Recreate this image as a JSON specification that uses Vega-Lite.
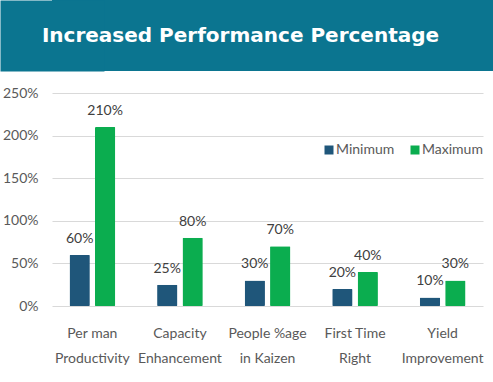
{
  "$schema": "https://vega.github.io/schema/vega-lite/v6.json",
  "padding": 0,
  "background": "white",
  "spacing": 15,
  "resolve": {"legend": {"color": "independent"}},
  "config": {"view": {"stroke": null}},
  "vconcat": [
    {
      "width": 441,
      "height": 71,
      "view": {"fill": "#0b7590", "stroke": null},
      "data": {"values": [{"t": "Increased Performance Percentage", "pos": 0.5}]},
      "mark": {"type": "text", "font": "DejaVu Sans", "fontWeight": 700, "fontSize": 20, "color": "white", "dx": -32},
      "encoding": {
        "text": {"field": "t"},
        "y": {
          "field": "pos", "type": "quantitative", "scale": {"domain": [0, 1]},
          "axis": {
            "title": null, "labels": false, "ticks": false, "grid": false,
            "domain": true, "domainColor": "#0b7590", "domainWidth": 104,
            "minExtent": 52, "maxExtent": 52
          }
        }
      }
    },
    {
      "width": 431,
      "height": 213,
      "data": {"values": [
        {"cat": "Per man|Productivity", "series": "Minimum", "value": 0.60},
        {"cat": "Per man|Productivity", "series": "Maximum", "value": 2.10},
        {"cat": "Capacity|Enhancement", "series": "Minimum", "value": 0.25},
        {"cat": "Capacity|Enhancement", "series": "Maximum", "value": 0.80},
        {"cat": "People %age|in Kaizen", "series": "Minimum", "value": 0.30},
        {"cat": "People %age|in Kaizen", "series": "Maximum", "value": 0.70},
        {"cat": "First Time|Right", "series": "Minimum", "value": 0.20},
        {"cat": "First Time|Right", "series": "Maximum", "value": 0.40},
        {"cat": "Yield|Improvement", "series": "Minimum", "value": 0.10},
        {"cat": "Yield|Improvement", "series": "Maximum", "value": 0.30}
      ]},
      "encoding": {
        "x": {
          "field": "cat", "type": "nominal", "sort": null,
          "scale": {"paddingInner": 0.478},
          "axis": {
            "title": null, "domain": false, "ticks": false, "labelAngle": 0,
            "labelExpr": "split(datum.label, '|')",
            "labelFont": "Lato", "labelFontSize": 14, "labelColor": "#595959",
            "labelLineHeight": 25, "labelPadding": 20, "labelBaseline": "top"
          }
        },
        "xOffset": {"field": "series", "sort": ["Minimum", "Maximum"], "scale": {"paddingInner": 0.2}},
        "y": {
          "field": "value", "type": "quantitative",
          "scale": {"domain": [0, 2.5]},
          "axis": {
            "title": null, "domain": false, "ticks": false,
            "values": [0, 0.5, 1, 1.5, 2, 2.5],
            "format": ".0%",
            "labelFont": "Lato", "labelFontSize": 14, "labelColor": "#595959",
            "labelPadding": 14, "minExtent": 52, "maxExtent": 52,
            "gridColor": "#d9d9d9", "gridWidth": 1
          }
        }
      },
      "layer": [
        {
          "mark": {"type": "bar", "cornerRadius": 1},
          "encoding": {
            "color": {
              "field": "series", "type": "nominal",
              "scale": {"domain": ["Minimum", "Maximum"], "range": ["#1f567a", "#0bad4f"]},
              "legend": {
                "title": null, "orient": "none", "direction": "horizontal",
                "legendX": 270, "legendY": 50, "padding": 0,
                "symbolType": "square", "symbolSize": 81, "symbolStrokeWidth": 0,
                "labelFont": "Lato", "labelFontSize": 14, "labelColor": "#595959",
                "labelOffset": 0, "columnPadding": 13
              }
            }
          }
        },
        {
          "mark": {"type": "text", "baseline": "bottom", "dy": -9, "font": "Lato", "fontSize": 14, "color": "#404040"},
          "encoding": {"text": {"field": "value", "type": "quantitative", "format": ".0%"}}
        }
      ]
    }
  ]
}
